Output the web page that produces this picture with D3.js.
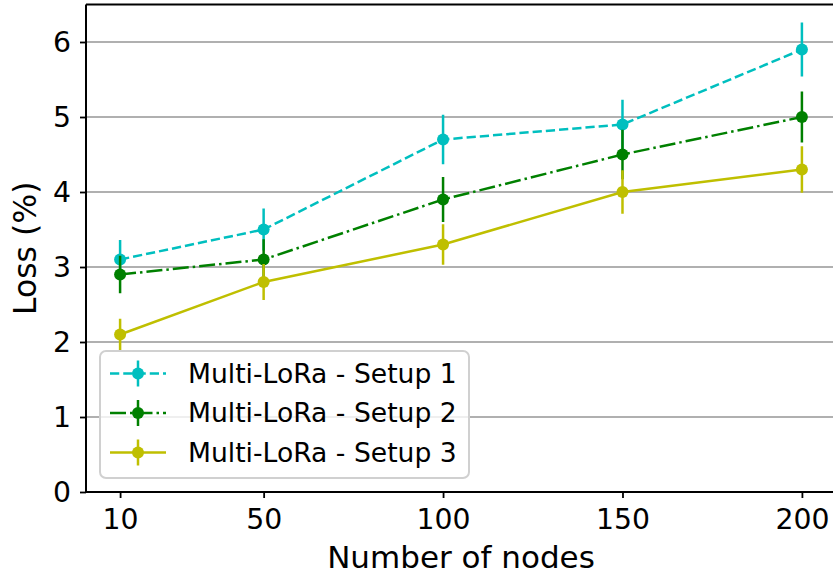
<!DOCTYPE html>
<html>
<head>
<meta charset="utf-8">
<script src="https://cdn.jsdelivr.net/npm/d3@7"></script>
<style>
  body { margin: 0; background: #fff; }
  svg text { font-family: "DejaVu Sans", sans-serif; fill: #000; }
</style>
</head>
<body>
<svg id="chart" width="833" height="575"></svg>
<script>
// data
const nodes = [10, 50, 100, 150, 200];
const yTicks = [0, 1, 2, 3, 4, 5, 6];
const setupNames = ["Multi-LoRa - Setup 1", "Multi-LoRa - Setup 2", "Multi-LoRa - Setup 3"];
const setup1 = [3.1, 3.5, 4.7, 4.9, 5.9];
const setup1Err = [0.26, 0.28, 0.33, 0.33, 0.36];
const setup2 = [2.9, 3.1, 3.9, 4.5, 5.0];
const setup2Err = [0.25, 0.27, 0.3, 0.33, 0.34];
const setup3 = [2.1, 2.8, 3.3, 4.0, 4.3];
const setup3Err = [0.21, 0.24, 0.27, 0.29, 0.31];

const colors = ["#00bfbf", "#008000", "#bfbf00"];
const dashes = ["9.25,4", "16,4,2.5,4", null];
const series = [
  { name: setupNames[0], values: setup1, err: setup1Err },
  { name: setupNames[1], values: setup2, err: setup2Err },
  { name: setupNames[2], values: setup3, err: setup3Err }
];

const box = { left: 86, right: 836, top: 4.5, bottom: 492 };
const svg = d3.select("#chart");

const x = d3.scaleLinear().domain([0.5, 209.5]).range([box.left, box.right]);
const y = d3.scaleLinear().domain([0, 6.5]).range([box.bottom, box.top]);

// grid
svg.append("g")
  .selectAll("line")
  .data(yTicks)
  .join("line")
    .attr("x1", box.left).attr("x2", box.right)
    .attr("y1", d => y(d)).attr("y2", d => y(d))
    .attr("stroke", "#b0b0b0").attr("stroke-width", 2);

// axes
const xAxis = svg.append("g")
  .attr("transform", `translate(0,${box.bottom})`)
  .call(d3.axisBottom(x).tickValues(nodes).tickSize(6).tickPadding(8).tickSizeOuter(0));
const yAxis = svg.append("g")
  .attr("transform", `translate(${box.left},0)`)
  .call(d3.axisLeft(y).tickValues(yTicks).tickFormat(d3.format("d")).tickSize(6).tickPadding(9).tickSizeOuter(0));

[xAxis, yAxis].forEach(g => {
  g.select(".domain").remove();
  g.selectAll(".tick line").attr("stroke", "#000").attr("stroke-width", 1.8);
  g.selectAll(".tick text").attr("font-size", 28.3).attr("fill", "#000");
});
xAxis.selectAll(".tick text").attr("dy", "0.8em");

// spines
const spine = svg.append("g").attr("stroke", "#000").attr("stroke-width", 2).attr("fill", "none");
spine.append("line").attr("x1", box.left).attr("x2", box.left).attr("y1", box.top).attr("y2", box.bottom);
spine.append("line").attr("x1", box.left).attr("x2", box.right).attr("y1", box.bottom).attr("y2", box.bottom);
spine.append("line").attr("x1", box.left).attr("x2", box.right).attr("y1", box.top).attr("y2", box.top);
spine.append("line").attr("x1", box.right).attr("x2", box.right).attr("y1", box.top).attr("y2", box.bottom);

// series
const line = d3.line().x(d => x(d[0])).y(d => y(d[1]));
series.forEach((s, i) => {
  const g = svg.append("g");
  const pts = nodes.map((n, j) => [n, s.values[j], s.err[j]]);
  g.selectAll("line.err")
    .data(pts)
    .join("line")
      .attr("class", "err")
      .attr("x1", d => x(d[0])).attr("x2", d => x(d[0]))
      .attr("y1", d => y(d[1] - d[2])).attr("y2", d => y(d[1] + d[2]))
      .attr("stroke", colors[i]).attr("stroke-width", 2.5);
  g.append("path")
    .attr("d", line(pts))
    .attr("fill", "none")
    .attr("stroke", colors[i])
    .attr("stroke-width", 2.5)
    .attr("stroke-dasharray", dashes[i]);
  g.selectAll("circle")
    .data(pts)
    .join("circle")
      .attr("cx", d => x(d[0])).attr("cy", d => y(d[1]))
      .attr("r", 6).attr("fill", colors[i]);
});

// axis labels
svg.append("text")
  .attr("x", (box.left + box.right) / 2).attr("y", 568)
  .attr("text-anchor", "middle").attr("font-size", 31)
  .text("Number of nodes");
svg.append("text")
  .attr("transform", `translate(36,${(box.top + box.bottom) / 2}) rotate(-90)`)
  .attr("text-anchor", "middle").attr("font-size", 31.5)
  .text("Loss (%)");

// legend
const legend = svg.append("g");
legend.append("rect")
  .attr("x", 100).attr("y", 351).attr("width", 369).attr("height", 127)
  .attr("rx", 6).attr("fill", "#fff").attr("fill-opacity", 0.8)
  .attr("stroke", "#d0d0d0").attr("stroke-width", 2);
series.forEach((s, i) => {
  const cy = 373.5 + i * 39.5;
  const row = legend.append("g");
  row.append("line")
    .attr("x1", 110).attr("x2", 166).attr("y1", cy).attr("y2", cy)
    .attr("stroke", colors[i]).attr("stroke-width", 2.5)
    .attr("stroke-dasharray", dashes[i]);
  row.append("line")
    .attr("x1", 138).attr("x2", 138).attr("y1", cy - 13).attr("y2", cy + 13)
    .attr("stroke", colors[i]).attr("stroke-width", 2.5);
  row.append("circle").attr("cx", 138).attr("cy", cy).attr("r", 6).attr("fill", colors[i]);
  row.append("text")
    .attr("x", 188).attr("y", cy).attr("dy", "0.35em")
    .attr("font-size", 26.6)
    .text(s.name);
});
</script>
</body>
</html>
